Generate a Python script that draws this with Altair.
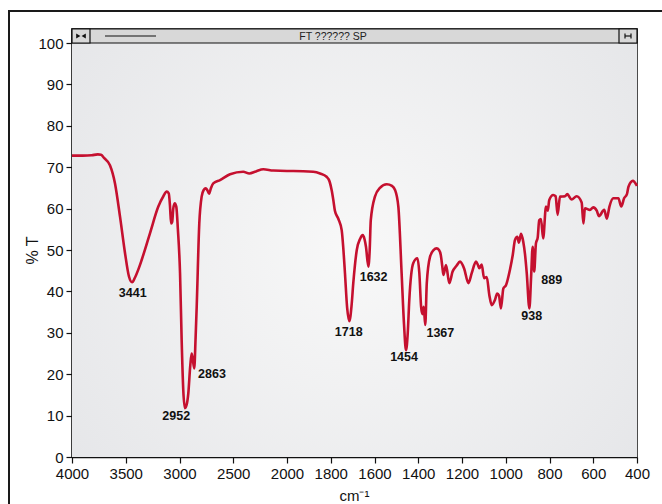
import altair as alt
import pandas as pd

# Spectrum (wavenumber cm-1, %T)
wn = [4000, 3900, 3817, 3760, 3730, 3700, 3647, 3600, 3553, 3507, 3470, 3441, 3415, 3380, 3352,
      3274, 3197, 3150, 3119, 3100, 3088, 3078, 3068, 3058, 3045, 3030, 3015, 2995, 2980, 2965,
      2950, 2935, 2918, 2900, 2887, 2876, 2863, 2850, 2840, 2816, 2794, 2775, 2756, 2740, 2725,
      2707, 2686, 2623, 2530, 2407, 2351, 2289, 2220, 2128, 2000, 1971, 1880, 1849, 1819, 1805,
      1796, 1788, 1781, 1765, 1750, 1742, 1735, 1725, 1715, 1705, 1697, 1681, 1665, 1654, 1645,
      1639, 1628, 1622, 1617, 1598, 1575, 1544, 1520, 1506, 1491, 1476, 1465, 1456, 1448, 1441,
      1423, 1404, 1395, 1387, 1381, 1375, 1368, 1361, 1346, 1330, 1316, 1305, 1297, 1290, 1285,
      1273, 1258, 1243, 1225, 1209, 1190, 1171, 1155, 1136, 1128, 1121, 1110, 1099, 1087, 1075,
      1064, 1049, 1039, 1031, 1022, 1011, 999, 981, 968, 958, 947, 940, 930, 920, 912,
      904, 892, 884, 877, 870, 862, 854, 847, 839, 829, 816, 808, 801, 783, 772,
      763, 752, 729, 719, 699, 676, 653, 645, 638, 615, 600, 584, 574, 550, 538,
      526, 508, 485, 472, 459, 446, 439, 419, 400]
trans = [72.8, 72.8, 72.9, 73.1, 73.0, 72.2, 70.5, 66.1, 58.0, 49.3, 43.6, 42.2, 43.3, 45.5, 47.6,
         54.1, 60.5, 63.0, 64.1, 63.7, 60.5, 56.4, 56.8, 60.0, 61.3, 60.5, 55.0, 44.4, 28.3, 16.2,
         11.8, 12.5, 15.4, 22.0, 25.0, 23.5, 21.4, 29.0, 36.3, 56.4, 62.9, 64.5, 64.9, 64.4, 63.6,
         65.0, 66.1, 66.9, 68.3, 68.9, 68.5, 69.0, 69.5, 69.2, 69.1, 69.1, 68.9, 68.5, 67.7, 66.5,
         64.5, 62.0, 59.5, 57.5, 54.8, 50.0, 44.4, 36.0, 32.8, 36.5, 42.0, 50.0, 52.8, 53.6, 52.5,
         50.8, 46.0, 50.0, 57.2, 62.9, 65.0, 65.9, 65.5, 64.5, 60.5, 44.4, 32.0, 25.8, 30.0, 37.9,
         46.8, 48.0, 44.4, 36.3, 34.5, 36.3, 31.9, 42.0, 48.4, 50.0, 50.4, 50.0, 48.8, 46.0, 44.0,
         46.4, 42.0, 44.8, 46.2, 47.2, 45.5, 42.0, 44.5, 47.2, 46.5, 45.6, 46.5, 43.2, 43.5, 39.1,
         36.7, 38.0, 39.5, 39.0, 35.9, 40.7, 41.5, 45.2, 48.8, 52.4, 53.2, 51.8, 53.9, 52.0, 49.0,
         44.4, 35.9, 43.6, 50.8, 44.8, 51.6, 53.0, 57.2, 57.5, 52.8, 60.5, 59.5, 62.1, 63.3, 63.0,
         58.5, 62.9, 63.0, 63.5, 62.2, 63.0, 61.5, 56.4, 60.1, 59.7, 60.3, 59.5, 58.2, 59.7, 57.6,
         60.5, 62.5, 62.5, 60.5, 62.5, 63.5, 65.3, 66.7, 65.5]

# Peak labels
peak_text = ["3441", "2952", "2863", "1718", "1632", "1454", "1367", "938", "889"]
peak_wn = [3435, 3030, 2698, 1718, 1604, 1465, 1299, 881, 790]
peak_t = [39.7, 9.9, 20.0, 30.3, 43.6, 24.2, 30.0, 34.1, 42.8]

x_ticks = [4000, 3500, 3000, 2500, 2000, 1800, 1600, 1400, 1200, 1000, 800, 600, 400]
y_ticks = [0, 10, 20, 30, 40, 50, 60, 70, 80, 90, 100]
header_title = "FT ?????? SP"

W, H = 565, 428
FONT = "Liberation Sans Narrow, Liberation Sans, Arial"

spec = pd.DataFrame({"wn": wn, "t": trans})
peaks = pd.DataFrame({"label": peak_text, "wn": peak_wn, "t": peak_t})
one = pd.DataFrame({"a": [0]})

xscale = alt.Scale(domain=[4000, 2000, 400], range=[0, 215, W], nice=False, zero=False)
yscale = alt.Scale(domain=[0, 103.4], nice=False, zero=False)

bg = alt.Chart(one).mark_rect(
    fill=alt.RadialGradient(
        gradient="radial",
        stops=[alt.GradientStop(offset=0, color="#f8f8f8"),
               alt.GradientStop(offset=1, color="#e2e3e6")],
        x1=0.5, y1=0.5, r1=0, x2=0.5, y2=0.5, r2=0.75),
).encode(x=alt.value(0), x2=alt.value(W), y=alt.value(14), y2=alt.value(H))

header = alt.Chart(one).mark_rect(fill="#d8d8d8", stroke="#111", strokeWidth=1.2).encode(
    x=alt.value(0), x2=alt.value(W), y=alt.value(0), y2=alt.value(14))
lbox = alt.Chart(one).mark_rect(fill="#d8d8d8", stroke="#111", strokeWidth=1.2).encode(
    x=alt.value(0), x2=alt.value(18), y=alt.value(0), y2=alt.value(14))
rbox = alt.Chart(one).mark_rect(fill="#d8d8d8", stroke="#111", strokeWidth=1.2).encode(
    x=alt.value(W - 18), x2=alt.value(W), y=alt.value(0), y2=alt.value(14))
tri_r = alt.Chart(one).mark_point(shape="triangle-right", filled=True, color="#111", size=24, opacity=1).encode(
    x=alt.value(6.3), y=alt.value(7))
tri_l = alt.Chart(one).mark_point(shape="triangle-left", filled=True, color="#111", size=24, opacity=1).encode(
    x=alt.value(11.7), y=alt.value(7))
hline = alt.Chart(one).mark_rule(color="#111", strokeWidth=1.2).encode(
    x=alt.value(33), x2=alt.value(84), y=alt.value(7))
ibar = alt.Chart(one).mark_rule(color="#111", strokeWidth=1.2).encode(
    x=alt.value(W - 12), x2=alt.value(W - 6), y=alt.value(7))
ibar_l = alt.Chart(one).mark_rule(color="#111", strokeWidth=1.2).encode(
    x=alt.value(W - 12), y=alt.value(4.5), y2=alt.value(9.5))
ibar_r = alt.Chart(one).mark_rule(color="#111", strokeWidth=1.2).encode(
    x=alt.value(W - 6), y=alt.value(4.5), y2=alt.value(9.5))
htext = alt.Chart(one).mark_text(text=header_title, font="Liberation Sans", fontSize=10.5,
                                 color="#222", baseline="middle", align="center").encode(
    x=alt.value(261), y=alt.value(7.5))

frame_top = alt.Chart(one).mark_rule(color="#1a1a1a", strokeWidth=2).encode(
    x=alt.value(-63), x2=alt.value(620), y=alt.value(-18))
frame_left = alt.Chart(one).mark_rule(color="#1a1a1a", strokeWidth=2).encode(
    x=alt.value(-63), y=alt.value(-19), y2=alt.value(480))

line = alt.Chart(spec).mark_line(color="#c5102f", strokeWidth=2.6, interpolate="monotone").encode(
    x=alt.X("wn:Q", scale=xscale,
            axis=alt.Axis(values=x_ticks, title="cm⁻¹", grid=False, labelFlush=False,
                          tickSize=6, labelPadding=3, labelFont=FONT, labelFontSize=15,
                          labelColor="#111", tickColor="#111", domainColor="#111",
                          domainWidth=1.5, tickWidth=1.2, format="d",
                          titleFont=FONT, titleFontSize=15, titleFontWeight="normal",
                          titleColor="#111", titleX=282, titleY=43,
                          titleBaseline="alphabetic")),
    y=alt.Y("t:Q", scale=yscale,
            axis=alt.Axis(values=y_ticks, title="% T", grid=False, tickSize=6,
                          labelPadding=3, labelFont=FONT, labelFontSize=15,
                          labelColor="#111", tickColor="#111", domainColor="#111",
                          domainWidth=1.5, tickWidth=1.2,
                          titleFont=FONT, titleFontSize=16, titleFontWeight="normal",
                          titleColor="#111", titleX=-40, titleY=221, titleAngle=270,
                          titleAlign="center", titleBaseline="middle")),
    order=alt.Order("wn:Q", sort="descending"),
)

labels = alt.Chart(peaks).mark_text(font="Liberation Sans", fontWeight="bold", fontSize=12.5,
                                    color="#111", align="center", baseline="middle").encode(
    x=alt.X("wn:Q", scale=xscale), y=alt.Y("t:Q", scale=yscale), text="label:N")

chart = alt.layer(bg, header, lbox, rbox, tri_r, tri_l, hline, ibar, ibar_l, ibar_r, htext,
                  line, labels, frame_top, frame_left).properties(
    width=W, height=H,
    autosize=alt.AutoSizeParams(type="none"),
    padding={"left": 72, "top": 29, "right": 25, "bottom": 47},
    background="white",
).configure_view(stroke="#111", strokeWidth=1.5)

chart.save("out.html", embed_options={"renderer": "svg", "actions": False})
